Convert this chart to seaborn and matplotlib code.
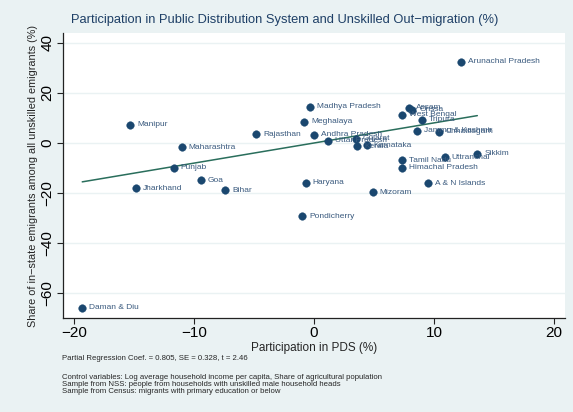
import numpy as np
import pandas as pd
import matplotlib
matplotlib.use("Agg")
import matplotlib.pyplot as plt
import seaborn as sns

states = ["Arunachal Pradesh", "Madhya Pradesh", "Meghalaya", "Andhra Pradesh", "Uttar Pradesh",
          "Gujarat", "Kerala", "Karnataka", "Assam", "Orissa", "West Bengal", "Tripura",
          "Jammu & Kashmir", "Chhattisgarh", "Tamil Nadu", "Himachal Pradesh", "Uttranchal",
          "Sikkim", "Haryana", "A & N Islands", "Mizoram", "Manipur", "Maharashtra", "Punjab",
          "Jharkhand", "Goa", "Bihar", "Rajasthan", "Pondicherry", "Daman & Diu"]
pds = [12.25, -0.33, -0.83, 0.03, 1.2,
       3.5, 3.6, 4.4, 7.9, 8.2, 7.3, 9.0,
       8.6, 10.4, 7.3, 7.3, 10.9,
       13.6, -0.7, 9.5, 4.9, -15.3, -11.0, -11.7,
       -14.8, -9.4, -7.4, -4.8, -1.0, -19.3]
share = [32.4, 14.4, 8.5, 3.2, 0.9,
         1.7, -1.2, -0.8, 14.1, 13.3, 11.2, 9.2,
         4.8, 4.5, -6.8, -9.9, -5.6,
         -4.3, -15.9, -16.1, -19.7, 7.3, -1.6, -9.9,
         -18.0, -14.9, -18.9, 3.5, -29.3, -65.9]
coef = 0.805
se = 0.328
tstat = 2.46
xticks = [-20, -10, 0, 10, 20]
yticks = [-60, -40, -20, 0, 20, 40]

df = pd.DataFrame({"state": states, "pds": pds, "share": share})

sns.set_theme(style="white")
plt.rcParams["font.family"] = ["Liberation Sans", "DejaVu Sans"]
plt.rcParams["axes.unicode_minus"] = True

bg = "#EAF2F3"
navy = "#1A476F"
fig = plt.figure(figsize=(5.73, 4.12), dpi=100, facecolor=bg)
ax = fig.add_axes([0.110, 0.228, 0.876, 0.692])
ax.set_facecolor("white")

ax.set_xlim(-20.9, 20.9)
ax.set_ylim(-70, 44)

for yt in yticks:
    ax.axhline(yt, color=bg, lw=1.0, zorder=0)

sns.scatterplot(data=df, x="pds", y="share", ax=ax, color=navy, s=30,
                edgecolor=navy, linewidth=0.3, zorder=3, legend=False)

xl = np.array([min(pds), max(pds)])
sns.lineplot(x=xl, y=coef * xl, ax=ax, color="#2A6E5C", lw=1.1, zorder=2)

for s_, x_, y_ in zip(states, pds, share):
    ax.annotate(s_, (x_, y_), xytext=(5, 0), textcoords="offset points",
                fontsize=6.0, color="#3A5A7E", va="center", ha="left", zorder=4)

for sp in ["top", "right"]:
    ax.spines[sp].set_visible(False)
for sp in ["left", "bottom"]:
    ax.spines[sp].set_color("#222222")
    ax.spines[sp].set_linewidth(0.9)

ax.set_xticks(xticks)
ax.set_yticks(yticks)
ax.tick_params(axis="both", direction="out", length=4, width=0.8, color="#222222",
               labelsize=11, labelcolor="black", pad=2)
ax.tick_params(axis="both", which="both", left=True, bottom=True)
for lab in ax.get_yticklabels():
    lab.set_rotation(90)
    lab.set_va("center")

ax.set_xlabel("Participation in PDS (%)", fontsize=8.5, labelpad=1)
ax.set_ylabel("Share of in\u2212state emigrants among all unskilled emigrants (%)", fontsize=7.8, labelpad=2)

fig.text(0.497, 0.951, "Participation in Public Distribution System and Unskilled Out\u2212migration (%)",
         ha="center", va="center", fontsize=9.3, color="#1E3F66")

fig.text(0.108, 0.131, f"Partial Regression Coef. = {coef:.3f}, SE = {se:.3f}, t = {tstat:.2f}",
         fontsize=5.55, ha="left", va="center")
fig.text(0.108, 0.066,
         "Control variables: Log average household income per capita, Share of agricultural population\n"
         "Sample from NSS: people from households with unskilled male household heads\n"
         "Sample from Census: migrants with primary education or below",
         fontsize=5.6, ha="left", va="center", linespacing=1.0)

fig.savefig("out.png", dpi=100, facecolor=bg)
